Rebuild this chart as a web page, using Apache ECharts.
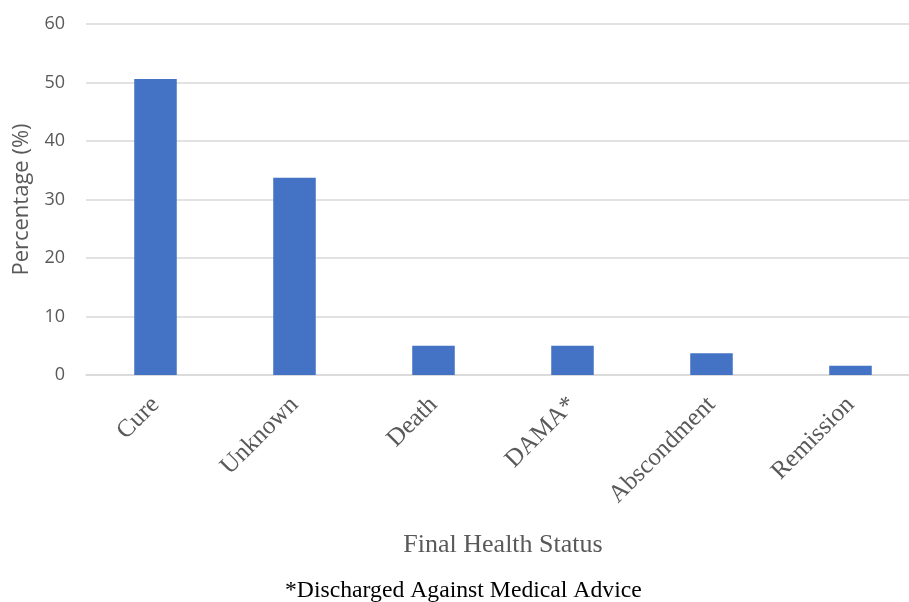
<!DOCTYPE html>
<html>
<head>
<meta charset="utf-8">
<script src="https://cdn.jsdelivr.net/npm/echarts@6/dist/echarts.min.js"></script>
<style>
  html, body { margin: 0; padding: 0; background: #fff; }
  #chart { width: 909px; height: 602px; }
</style>
</head>
<body>
<div id="chart"></div>
<script>
const categories = ['Cure', 'Unknown', 'Death', 'DAMA*', 'Abscondment', 'Remission'];
const percentages = [50.6, 33.7, 5.0, 5.0, 3.7, 1.6];
const yTicks = { min: 0, max: 60, interval: 10 };
const footnote = '*Discharged Against Medical Advice';

const chart = echarts.init(document.getElementById('chart'));

chart.setOption({
    animation: false,
    grid: { left: 86, width: 834, top: 24, bottom: 227, containLabel: false, outerBoundsMode: 'none' },
    xAxis: {
        type: 'category',
        data: categories,
        name: 'Final Health Status',
        nameLocation: 'middle',
        nameGap: 157,
        nameTextStyle: { fontFamily: 'Liberation Serif', fontSize: 26, color: '#595959' },
        axisLine: { lineStyle: { color: '#d9d9d9', width: 1.5 } },
        axisTick: { show: false },
        axisLabel: {
            rotate: 45,
            margin: 26,
            fontFamily: 'Liberation Serif',
            fontSize: 25,
            color: '#595959'
        }
    },
    yAxis: {
        type: 'value',
        min: yTicks.min,
        max: yTicks.max,
        interval: yTicks.interval,
        name: 'Percentage (%)',
        nameLocation: 'middle',
        nameGap: 53,
        nameTextStyle: { fontFamily: 'Open Sans', fontSize: 22, color: '#595959' },
        axisLine: { show: false },
        axisTick: { show: false },
        axisLabel: { margin: 21, fontFamily: 'Open Sans', fontSize: 18, color: '#595959' },
        splitLine: { lineStyle: { color: '#d9d9d9', width: 1.5 } }
    },
    series: [{
        type: 'bar',
        data: percentages,
        barWidth: '30.6%',
        itemStyle: { color: '#4472C4' }
    }],
    graphic: [{
        type: 'text',
        left: 285,
        top: 579,
        style: {
            text: footnote,
            font: '23.7px "Liberation Serif"',
            fill: '#000'
        }
    }]
});
</script>
</body>
</html>
